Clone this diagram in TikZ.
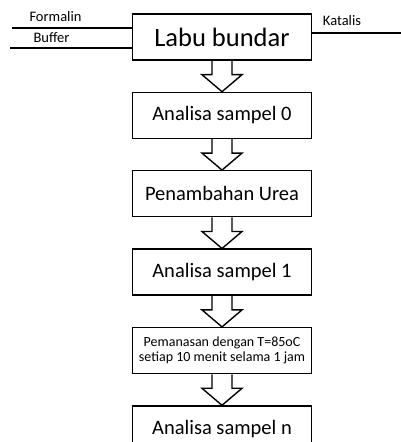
\documentclass[tikz,border=0pt]{standalone}
\usepackage{fontspec}
\setmainfont{Carlito}
\usetikzlibrary{positioning}

\tikzset{
  box/.style={draw,line width=1.4pt,minimum width=179pt,minimum height=46pt,
    inner sep=0pt,align=center,font=\fontsize{20.5}{24}\selectfont},
  feed/.style={line width=1.4pt},
  feedlabel/.style={anchor=base,inner sep=0pt,font=\fontsize{14.5}{16}\selectfont},
  blockarr/.style={line width=1.4pt,line join=miter}
}
\newcommand{\flowarrow}[2]{%
  \draw[blockarr] ([xshift=-10pt]#1.south) -- ++(0,-14pt) -- ++(-10pt,0)
    -- (#2.north) -- ++(20pt,17pt) -- ++(-10pt,0) -- ([xshift=10pt]#1.south);}

\begin{document}
\begin{tikzpicture}[x=1pt,y=1pt,node distance=31pt]
\useasboundingbox (0,0) rectangle (401,442);
% boxes
\node[box,font=\fontsize{26.5}{30}\selectfont] (labu) at (222,405) {Labu bundar};
\node[box,below=of labu] (analisa0) {Analisa sampel 0};
\node[box,below=of analisa0] (urea) {Penambahan Urea};
\node[box,below=of urea] (analisa1) {Analisa sampel 1};
\node[box,below=of analisa1,font=\fontsize{14}{15}\selectfont] (panas)
  {Pemanasan dengan T=85oC\\setiap 10 menit selama 1 jam};
\node[box,below=of panas] (analisan) {Analisa sampel n};
% arrows
\flowarrow{labu}{analisa0}
\flowarrow{analisa0}{urea}
\flowarrow{urea}{analisa1}
\flowarrow{analisa1}{panas}
\flowarrow{panas}{analisan}
% feeds
\coordinate (formalin) at (12,414);
\coordinate (buffer) at (10,394);
\coordinate (katalis) at (401,409);
\draw[feed] (formalin) -- (formalin -| labu.west);
\draw[feed] (buffer) -- (buffer -| labu.west);
\draw[feed] (katalis -| labu.east) -- (katalis);
\node[feedlabel] (formalinlbl) at (55.5,420) {Formalin};
\node[feedlabel] (bufferlbl) at (51.5,399) {Buffer};
\node[feedlabel] (katalislbl) at (342,416) {Katalis};
\end{tikzpicture}
\end{document}
